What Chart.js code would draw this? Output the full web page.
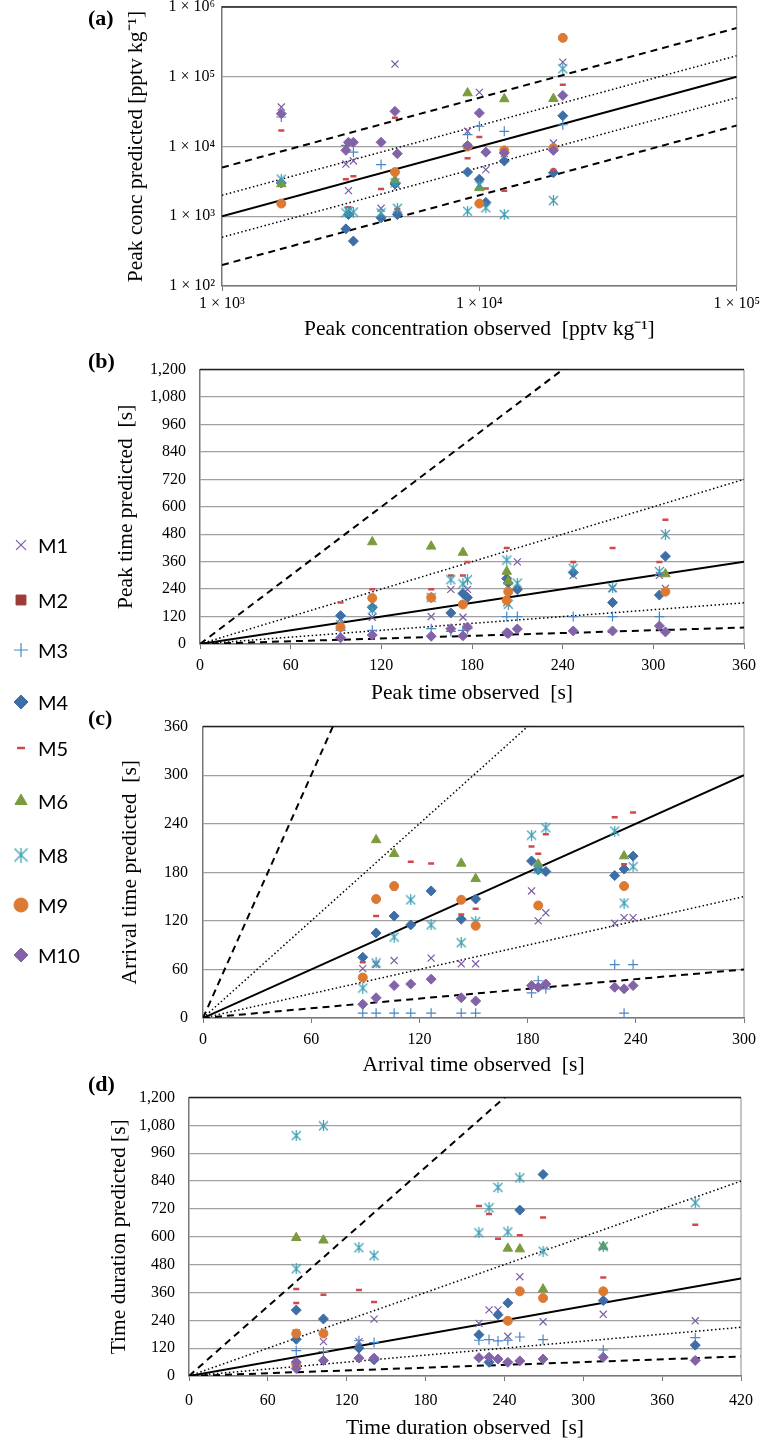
<!DOCTYPE html>
<html>
<head>
<meta charset="utf-8">
<script src="https://cdn.jsdelivr.net/npm/chart.js@4.4.1/dist/chart.umd.min.js"></script>
<style>
  body { margin: 0; background: #fff; width: 763px; height: 1440px; position: relative; overflow: hidden; }
  .panel { position: absolute; left: 0; width: 763px; }
  .tag { position: absolute; left: 88px; font: bold 22px "Liberation Serif", serif; }
  #legend { position: absolute; left: 0; top: 0; }
  .item { position: absolute; left: 8px; height: 30px; display: flex; align-items: center; font: 20px Lato, "Open Sans", sans-serif; }
  .item canvas { width: 26px; height: 26px; margin-right: 4px; }
</style>
</head>
<body>
<div class="panel" id="pa" style="top:-10px;height:356px"><canvas id="ca"></canvas></div>
<div class="panel" id="pb" style="top:346px;height:360px"><canvas id="cb"></canvas></div>
<div class="panel" id="pc" style="top:702px;height:376px"><canvas id="cc"></canvas></div>
<div class="panel" id="pd" style="top:1074px;height:367px"><canvas id="cd"></canvas></div>
<div class="tag" style="top:5px">(a)</div>
<div class="tag" style="top:348px">(b)</div>
<div class="tag" style="top:705px">(c)</div>
<div class="tag" style="top:1071px">(d)</div>
<div id="legend"></div>
<script>
const models = ['M1', 'M2', 'M3', 'M4', 'M5', 'M6', 'M8', 'M9', 'M10'];

// (a) peak concentration [pptv kg-1]
const concObs = [1700, 3030, 3100, 3240, 4150, 4700, 4800, 9000, 10000, 10600, 12500, 19400, 21100];
const concM1 = [36800, 5600, 2330, 6200, 1300, 152000, 2700, 16500, 59700, 4660, 7900, 11200, 162000];
const concM2 = [null, null, null, null, null, null, null, null, null, null, null, null, null];
const concM3 = [26500, 10400, null, 8300, 5500, null, null, 14800, 19500, null, 16500, null, 20500];
const concM4 = [3000, 660, 1060, 440, 950, 2900, 1060, 4300, 3400, 1580, 6200, 4200, 27600];
const concM5 = [17000, 3400, 1350, 3740, 2450, 25900, 1270, 6800, 13700, 2500, 2330, 4660, 76800];
const concM6 = [2900, null, null, null, null, 3300, null, 58400, 2550, null, 48000, 48400, null];
const concM8 = [3400, 1120, 1180, 1150, 1120, 3000, 1300, 1180, 2800, 1320, 1060, 1680, 130000];
const concM9 = [1520, null, null, null, null, 4300, null, 10000, 1520, null, 8800, 9500, 361000];
const concM10 = [29500, 8800, 11500, 11500, 11500, 31900, 7900, 10300, 30200, 8300, 8100, 8800, 54000];

// (b) peak time [s]
const peakObs = [93, 114, 153, 166, 174, 177, 203, 204, 210, 247, 273, 304, 308];
const peakM1 = [110, 117, 120, 239, 117, 239, 181, null, 359, 300, 243, 300, 243];
const peakM2 = [null, null, null, null, null, null, null, null, null, null, null, null, null];
const peakM3 = [60, 60, 67, 55, 60, 67, 120, null, 120, 120, 120, 120, null];
const peakM4 = [124, 160, null, 136, 221, 203, 286, 267, 238, 313, 181, 214, 384];
const peakM5 = [181, 239, 239, 300, 300, 359, 420, 240, null, 359, 420, 359, 543];
const peakM6 = [null, 446, 427, null, 400, null, 317, 274, null, null, null, null, 306];
const peakM8 = [85, 149, 203, 281, 263, 281, 367, 174, 266, 331, 246, 317, 479];
const peakM9 = [74, 201, 203, null, 173, null, 191, 229, null, null, null, null, 229];
const peakM10 = [27, 39, 34, 67, 36, 74, 49, 46, 66, 57, 57, 79, 53];

// (c) arrival time [s]
const arrObs = [88.6, 96, 106, 115.2, 126.5, 143.2, 151.2, 182.2, 185.9, 190.1, 228.3, 233.5, 238.5];
const arrM1 = [61, 66, 71, null, 74, 67, 67, 157, 120, 130, 117, 124, 124];
const arrM2 = [null, null, null, null, null, null, null, null, null, null, null, null, null];
const arrM3 = [6, 6, 6, 6, 6, 6, 6, 31, 46, 36, 66, 6, 66];
const arrM4 = [75, 105, 126, 115, 157, 122, 147, 194, 183, 181, 176, 184, 200];
const arrM5 = [69, 126, 159, 193, 191, 128, 135, 212, 203, 227, 248, 190, 254];
const arrM6 = [null, 220, 203, null, null, 191, 172, null, 190, null, null, 200, null];
const arrM8 = [37, 68, 100, 146, 115, 93, 119, 226, 184, 235, 231, 142, 187];
const arrM9 = [50, 147, 163, null, null, 146, 114, null, 139, null, null, 163, null];
const arrM10 = [17, 25, 40, 42, 48, 25, 21, 40, 38, 42, 38, 36, 40];

// (d) time duration [s]
const durObs = [81.6, 81.6, 102.3, 129.3, 140.8, 220.6, 228.3, 235.1, 242.6, 251.7, 269.4, 315.2, 385.2];
const durM1 = [186, null, 148, 148, 245, 227, 285, 285, 171, 428, 234, 266, 238];
const durM2 = [null, null, null, null, null, null, null, null, null, null, null, null, null];
const durM3 = [109, null, 105, 152, 144, 154, 157, 151, 154, 168, 157, 112, 165];
const durM4 = [284, 158, 246, 120, 70, 178, 59, 264, 315, 715, 869, 325, 133];
const durM5 = [375, 315, 350, 371, 319, 733, 698, 592, 544, 607, 683, 425, 652];
const durM6 = [596, null, 585, null, null, null, null, null, 550, 547, 374, 558, null];
const durM8 = [1036, 462, 1078, 553, 519, 617, 725, 813, 621, 854, 538, 558, 747];
const durM9 = [183, 50, 183, null, null, null, null, null, 238, 365, 336, 365, null];
const durM10 = [60, 32, 67, 77, 77, 79, 81, 73, 59, 65, 73, 81, 67];

// ratio lines: 1:1 solid, factor 2 dotted, factor 5 dashed
const solidRatios = [1];
const dottedRatios = [2, 0.5];
const dashedRatios = [5, 0.2];

// asterisk marker (X with a vertical bar)
function asterisk(size, color, lw) {
  const c = document.createElement('canvas');
  c.width = size; c.height = size;
  const g = c.getContext('2d');
  g.strokeStyle = color; g.lineWidth = lw;
  const m = 1, s = size - 1;
  g.beginPath();
  g.moveTo(m, m); g.lineTo(s, s);
  g.moveTo(s, m); g.lineTo(m, s);
  g.moveTo(size / 2, 0); g.lineTo(size / 2, size);
  g.stroke();
  return c;
}

const styles = {
  M1: { pointStyle: 'crossRot', radius: 5, color: '#7a5ba3', fill: false, bw: 1.2 },
  M2: { pointStyle: 'rect', radius: 5, color: '#9d3a37', fill: true, bw: 1 },
  M3: { pointStyle: 'cross', radius: 5, color: '#4a86c6', fill: false, bw: 1.2 },
  M4: { pointStyle: 'rectRot', radius: 5, color: '#3e6ea6', fill: true, bw: 1 },
  M5: { pointStyle: 'line', radius: 3, color: '#d0484b', fill: false, bw: 2.5 },
  M6: { pointStyle: 'triangle', radius: 5.5, color: '#7c9b3e', fill: true, bw: 1 },
  M8: { pointStyle: asterisk(11, '#3a9cb3', 1.2), radius: 5, color: '#3a9cb3', fill: false, bw: 1.2 },
  M9: { pointStyle: 'circle', radius: 4.5, color: '#dc7a34', fill: true, bw: 1 },
  M10: { pointStyle: 'rectRot', radius: 5, color: '#8363a8', fill: true, bw: 1 }
};

const frame = {
  id: 'frame',
  beforeDatasetsDraw(chart) {
    const { ctx, chartArea: a } = chart;
    ctx.save();
    ctx.strokeStyle = '#8c8c8c';
    ctx.lineWidth = 1;
    ctx.beginPath(); ctx.moveTo(a.right, a.top); ctx.lineTo(a.right, a.bottom); ctx.stroke();
    ctx.strokeStyle = '#222';
    ctx.lineWidth = 1.5;
    ctx.beginPath(); ctx.moveTo(a.left, a.top); ctx.lineTo(a.right, a.top); ctx.stroke();
    ctx.restore();
  }
};

const sup = { '2': '²', '3': '³', '4': '⁴', '5': '⁵', '6': '⁶' };
const logLabel = v => '1 × 10' + sup[String(Math.round(Math.log10(v)))];

function makePanel(id, p) {
  const datasets = [];
  const lines = [[solidRatios, [], 2], [dottedRatios, [1.5, 2.5], 1.5], [dashedRatios, [7, 5], 2]];
  lines.forEach(([ratios, dash, w]) => {
    ratios.forEach(k => {
      datasets.push({
        type: 'line',
        data: [{ x: p.x0, y: k * p.x0 }, { x: p.xmax, y: k * p.xmax }],
        borderColor: '#000', borderWidth: w, borderDash: dash,
        pointRadius: 0, fill: false, order: 100
      });
    });
  });
  models.forEach((m, i) => {
    const st = styles[m];
    const ys = p.series[i];
    datasets.push({
      label: m,
      data: p.obs.map((x, j) => ({ x: x, y: ys[j] })).filter(d => d.y != null),
      pointStyle: st.pointStyle,
      pointRadius: st.radius,
      pointHoverRadius: st.radius,
      borderColor: st.color,
      backgroundColor: st.fill ? st.color : 'rgba(0,0,0,0)',
      borderWidth: st.bw,
      order: 9 - i
    });
  });

  const tickFont = { family: 'Liberation Serif', size: 16 };
  const titleFont = { family: 'Liberation Serif', size: 21.5 };
  const xScale = {
    type: p.log ? 'logarithmic' : 'linear',
    min: p.xmin, max: p.xmax,
    border: { color: '#777', width: 1.5 },
    grid: { drawOnChartArea: false, drawTicks: true, tickLength: 5, color: '#777' },
    ticks: { font: tickFont, color: '#000', padding: p.xTickPad, maxRotation: 0 },
    title: { display: true, text: p.xTitle, font: titleFont, color: '#000', padding: { top: 0, bottom: p.xTitlePad } },
    afterFit: s => { s.height = p.xAxisH; }
  };
  const yScale = {
    type: p.log ? 'logarithmic' : 'linear',
    min: p.ymin, max: p.ymax,
    border: { color: '#777', width: 1.5 },
    grid: { color: '#a0a0a0', lineWidth: 1.3, drawTicks: false },
    ticks: { font: tickFont, color: '#000', padding: p.yTickPad },
    title: { display: true, text: p.yTitle, font: titleFont, color: '#000', padding: { top: p.yTitlePad, bottom: 0 } },
    afterFit: s => { s.width = p.left; }
  };
  if (p.log) {
    xScale.afterBuildTicks = a => { a.ticks = [1e3, 1e4, 1e5].map(v => ({ value: v })); };
    yScale.afterBuildTicks = a => { a.ticks = [1e2, 1e3, 1e4, 1e5, 1e6].map(v => ({ value: v })); };
    xScale.ticks.callback = logLabel;
    yScale.ticks.callback = logLabel;
  } else {
    xScale.ticks.stepSize = p.xStep;
    yScale.ticks.stepSize = p.yStep;
    yScale.ticks.callback = v => v.toLocaleString('en-US');
  }

  new Chart(document.getElementById(id), {
    type: 'scatter',
    data: { datasets: datasets },
    options: {
      responsive: true,
      maintainAspectRatio: false,
      animation: false,
      events: [],
      layout: { padding: { left: 0, right: 763 - p.right, top: 17, bottom: 0 } },
      plugins: { legend: { display: false }, tooltip: { enabled: false } },
      scales: { x: xScale, y: yScale }
    },
    plugins: [frame]
  });
}

makePanel('ca', {
  log: true, obs: concObs,
  series: [concM1, concM2, concM3, concM4, concM5, concM6, concM8, concM9, concM10],
  x0: 1e3, xmin: 1e3, xmax: 1e5, ymin: 1e2, ymax: 1e6,
  left: 222, right: 741, xAxisH: 60, xTickPad: 3, xTitlePad: 4, yTickPad: 7, yTitlePad: 123,
  xTitle: 'Peak concentration observed  [pptv kg⁻¹]', yTitle: 'Peak conc predicted [pptv kg⁻¹]'
});
makePanel('cb', {
  log: false, obs: peakObs,
  series: [peakM1, peakM2, peakM3, peakM4, peakM5, peakM6, peakM8, peakM9, peakM10],
  x0: 0, xmin: 0, xmax: 360, xStep: 60, ymin: 0, ymax: 1200, yStep: 120,
  left: 200, right: 745, xAxisH: 62, xTickPad: 7, xTitlePad: 0, yTickPad: 14, yTitlePad: 113,
  xTitle: 'Peak time observed  [s]', yTitle: 'Peak time predicted  [s]'
});
makePanel('cc', {
  log: false, obs: arrObs,
  series: [arrM1, arrM2, arrM3, arrM4, arrM5, arrM6, arrM8, arrM9, arrM10],
  x0: 0, xmin: 0, xmax: 300, xStep: 60, ymin: 0, ymax: 360, yStep: 60,
  left: 203, right: 748, xAxisH: 60, xTickPad: 7, xTitlePad: 0, yTickPad: 15, yTitlePad: 117,
  xTitle: 'Arrival time observed  [s]', yTitle: 'Arrival time predicted  [s]'
});
makePanel('cd', {
  log: false, obs: durObs,
  series: [durM1, durM2, durM3, durM4, durM5, durM6, durM8, durM9, durM10],
  x0: 0, xmin: 0, xmax: 420, xStep: 60, ymin: 0, ymax: 1200, yStep: 120,
  left: 189, right: 748, xAxisH: 65, xTickPad: 10, xTitlePad: 0, yTickPad: 14, yTitlePad: 106,
  xTitle: 'Time duration observed  [s]', yTitle: 'Time duration predicted [s]'
});

// legend on the left
const legendY = [545, 600, 650, 702, 748, 801, 855, 905, 955];
const legend = document.getElementById('legend');
models.forEach((m, i) => {
  const st = styles[m];
  const item = document.createElement('div');
  item.className = 'item';
  item.style.top = (legendY[i] - 15) + 'px';
  const c = document.createElement('canvas');
  c.width = 26; c.height = 26;
  const g = c.getContext('2d');
  g.strokeStyle = st.color;
  g.fillStyle = st.color;
  g.lineWidth = st.bw;
  const style = m === 'M8' ? asterisk(15, st.color, 1.3) : st.pointStyle;
  const r = m === 'M5' ? 4 : 7;
  if (Chart.helpers && Chart.helpers.drawPoint) {
    Chart.helpers.drawPoint(g, { pointStyle: style, radius: r, borderWidth: st.bw, rotation: 0 }, 13, 13);
  }
  item.appendChild(c);
  const t = document.createElement('span');
  t.textContent = m;
  item.appendChild(t);
  legend.appendChild(item);
});
</script>
</body>
</html>
